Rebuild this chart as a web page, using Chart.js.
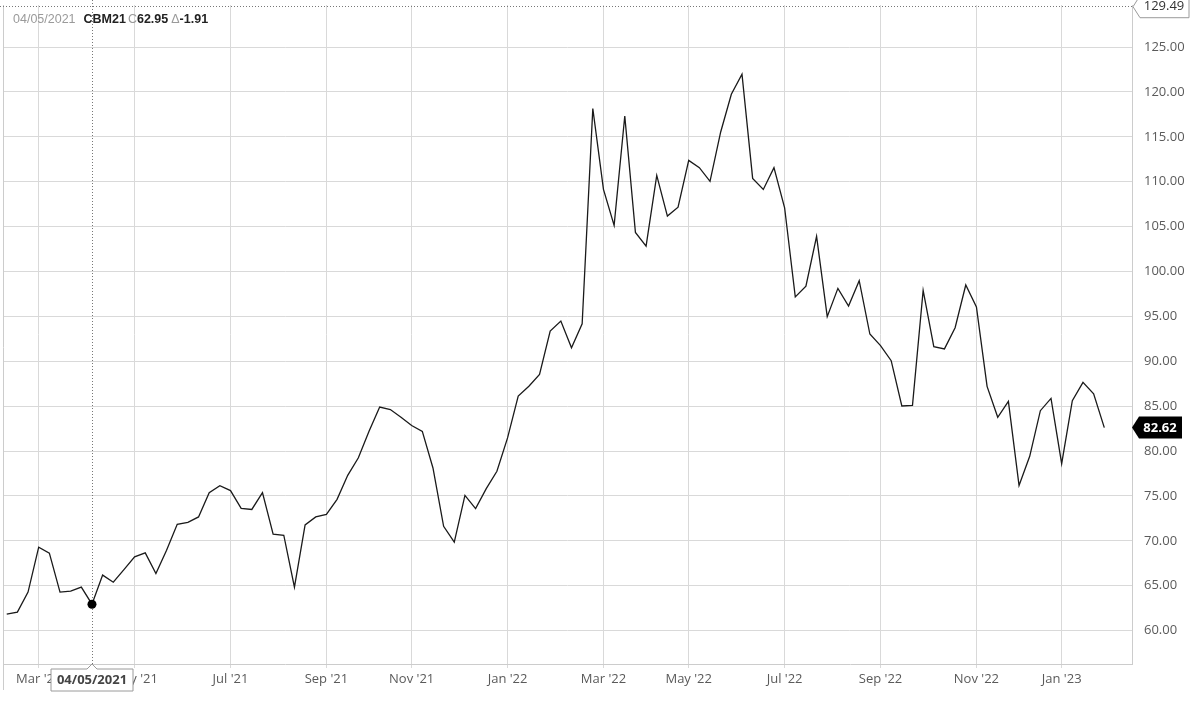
<!DOCTYPE html>
<html>
<head>
<meta charset="utf-8">
<script src="https://cdn.jsdelivr.net/npm/chart.js@4.4.1/dist/chart.umd.min.js"></script>
<style>
  html, body { margin: 0; padding: 0; background: #fff; }
  #wrap { width: 1200px; height: 707px; }
</style>
</head>
<body>
<div id="wrap"><canvas id="priceChart" width="1200" height="707"></canvas></div>
<script>
// === DATA ===
const SYMBOL = "CBM21";
const START_DATE = Date.UTC(2021, 1, 8); // first weekly bar (Mon 02/08/2021)
const CLOSES = [
    61.85, 62.07, 64.30, 69.30, 68.63, 64.30, 64.40, 64.86, 62.95, 66.19,
    65.40, 66.80, 68.22, 68.67, 66.37, 68.96, 71.85, 72.07, 72.67, 75.37,
    76.15, 75.60, 73.63, 73.50, 75.37, 70.74, 70.63, 64.85, 71.78, 72.67,
    72.96, 74.63, 77.30, 79.26, 82.22, 84.90, 84.63, 83.78, 82.85, 82.20,
    78.12, 71.62, 69.87, 75.07, 73.59, 75.82, 77.75, 81.47, 86.12, 87.23,
    88.53, 93.36, 94.48, 91.50, 94.18, 118.15, 109.15, 105.14, 117.32, 104.35,
    102.83, 110.70, 106.17, 107.17, 112.38, 111.56, 110.04, 115.54, 119.74, 121.97,
    110.37, 109.14, 111.56, 107.10, 97.17, 98.37, 103.91, 94.97, 98.12, 96.15,
    98.98, 93.04, 91.74, 90.07, 85.02, 85.09, 97.90, 91.63, 91.38, 93.74,
    98.50, 96.05, 87.21, 83.76, 85.54, 76.16, 79.42, 84.50, 85.87, 78.60,
    85.61, 87.65, 86.39, 82.62,
];
const Y_TICKS = [60, 65, 70, 75, 80, 85, 90, 95, 100, 105, 110, 115, 120, 125];
const MONTH_NAMES = ["Jan", "Feb", "Mar", "Apr", "May", "Jun", "Jul", "Aug", "Sep", "Oct", "Nov", "Dec"];
const HOVER_INDEX = 8;      // crosshair on 04/05/2021
const HOVER_PRICE = 129.49; // crosshair price at top

// weekly dates + bimonthly tick positions
const WEEKS = CLOSES.map((_, i) => new Date(START_DATE + i * 7 * 864e5));
const MONTH_TICKS = WEEKS.map((d, i) => i).filter((i) =>
    i > 0 &&
    WEEKS[i].getUTCMonth() !== WEEKS[i - 1].getUTCMonth() &&
    WEEKS[i].getUTCMonth() % 2 === 0
);

const pad = (n) => String(n).padStart(2, "0");
const fmtDate = (d) => pad(d.getUTCMonth() + 1) + "/" + pad(d.getUTCDate()) + "/" + d.getUTCFullYear();
const fmtMonth = (d) => MONTH_NAMES[d.getUTCMonth()] + " '" + String(d.getUTCFullYear()).slice(2);

const AXIS_FONT = "'Open Sans', sans-serif";
const GRID = "#d9d9d9";
const FRAME = "#cccccc";

// === OVERLAYS (crosshair, header, price tags) ===
const overlay = {
    id: "overlay",
    beforeDatasetsDraw(chart) {
        const { ctx, chartArea: a, scales } = chart;
        const cx = scales.x.getPixelForValue(HOVER_INDEX);
        const cy = scales.y.getPixelForValue(HOVER_PRICE);
        ctx.save();
        // left frame line
        ctx.strokeStyle = FRAME;
        ctx.lineWidth = 1;
        ctx.beginPath();
        ctx.moveTo(a.left + 0.5, a.top);
        ctx.lineTo(a.left + 0.5, a.bottom + 26);
        ctx.stroke();
        // crosshair
        ctx.strokeStyle = "#777";
        ctx.setLineDash([1, 2]);
        ctx.beginPath();
        ctx.moveTo(Math.round(cx) + 0.5, 0);
        ctx.lineTo(Math.round(cx) + 0.5, a.bottom + 4);
        ctx.moveTo(0, Math.round(cy) - 0.5);
        ctx.lineTo(a.right, Math.round(cy) - 0.5);
        ctx.stroke();
        ctx.restore();
    },
    afterDraw(chart) {
        const { ctx, chartArea: a, scales } = chart;
        const cx = scales.x.getPixelForValue(HOVER_INDEX);
        const cy = scales.y.getPixelForValue(HOVER_PRICE);
        const last = CLOSES[CLOSES.length - 1];
        const ly = scales.y.getPixelForValue(last);
        ctx.save();

        // header
        const close = CLOSES[HOVER_INDEX];
        const change = close - CLOSES[HOVER_INDEX - 1];
        const parts = [
            [fmtDate(WEEKS[HOVER_INDEX]), "#9a9a9a", "normal", 8],
            [SYMBOL, "#222", "bold", 2],
            ["C", "#9a9a9a", "normal", 0],
            [close.toFixed(2), "#222", "bold", 3],
            ["\u0394", "#9a9a9a", "normal", 0],
            [change.toFixed(2), "#222", "bold", 0],
        ];
        let hx = 13;
        ctx.textBaseline = "middle";
        ctx.textAlign = "left";
        parts.forEach(([t, col, w, gap]) => {
            ctx.font = w + " 12.5px 'Liberation Sans', Arial, sans-serif";
            ctx.fillStyle = col;
            ctx.fillText(t, hx, 20);
            hx += ctx.measureText(t).width + gap;
        });

        // date tag under crosshair
        const bx = Math.round(cx);
        const top = a.bottom + 5;
        ctx.beginPath();
        ctx.moveTo(bx - 41, top);
        ctx.lineTo(bx - 5, top);
        ctx.lineTo(bx, top - 5);
        ctx.lineTo(bx + 5, top);
        ctx.lineTo(bx + 41, top);
        ctx.lineTo(bx + 41, top + 22);
        ctx.lineTo(bx - 41, top + 22);
        ctx.closePath();
        ctx.fillStyle = "#fff";
        ctx.fill();
        ctx.strokeStyle = "#9a9a9a";
        ctx.lineWidth = 1;
        ctx.stroke();
        ctx.font = "bold 13px " + AXIS_FONT;
        ctx.fillStyle = "#444";
        ctx.textAlign = "center";
        ctx.fillText(fmtDate(WEEKS[HOVER_INDEX]), bx, top + 11.5);

        // crosshair price tag (top right)
        const r = a.right;
        ctx.beginPath();
        ctx.moveTo(r + 1, cy);
        ctx.lineTo(r + 8, cy - 11);
        ctx.lineTo(r + 57, cy - 11);
        ctx.lineTo(r + 57, cy + 11);
        ctx.lineTo(r + 8, cy + 11);
        ctx.closePath();
        ctx.fillStyle = "#fff";
        ctx.fill();
        ctx.strokeStyle = "#9a9a9a";
        ctx.stroke();
        ctx.font = "13px " + AXIS_FONT;
        ctx.fillStyle = "#333";
        ctx.fillText(HOVER_PRICE.toFixed(2), r + 32, cy);

        // last price tag
        ctx.beginPath();
        ctx.moveTo(r, ly);
        ctx.lineTo(r + 7, ly - 11);
        ctx.lineTo(r + 50, ly - 11);
        ctx.lineTo(r + 50, ly + 11);
        ctx.lineTo(r + 7, ly + 11);
        ctx.closePath();
        ctx.fillStyle = "#000";
        ctx.fill();
        ctx.font = "bold 13px " + AXIS_FONT;
        ctx.fillStyle = "#fff";
        ctx.fillText(last.toFixed(2), r + 28, ly + 0.5);

        ctx.restore();
    },
};

// === CHART ===
const ctxPrice = document.getElementById("priceChart").getContext("2d");
new Chart(ctxPrice, {
    type: "line",
    data: {
        datasets: [
            {
                data: CLOSES.map((v, i) => ({ x: i, y: v })),
                borderColor: "#1a1a1a",
                borderWidth: 1.3,
                tension: 0,
                fill: false,
                pointRadius: (c) => (c.dataIndex === HOVER_INDEX ? 4.5 : 0),
                pointBackgroundColor: "#000",
                pointBorderWidth: 0,
            },
        ],
    },
    options: {
        responsive: false,
        animation: false,
        devicePixelRatio: 1,
        layout: { padding: { left: 3, top: 5, right: 0, bottom: 0 } },
        plugins: { legend: { display: false }, tooltip: { enabled: false } },
        scales: {
            x: {
                type: "linear",
                min: -0.35,
                max: 105.6,
                afterBuildTicks: (s) => {
                    s.ticks = MONTH_TICKS.map((i) => ({ value: i }));
                },
                afterFit: (s) => {
                    s.height = 43;
                    s.paddingLeft = 0;
                    s.paddingRight = 0;
                },
                ticks: {
                    autoSkip: false,
                    maxRotation: 0,
                    padding: 3,
                    color: "#5a5a5a",
                    font: { family: AXIS_FONT, size: 13 },
                    callback: (v) => fmtMonth(WEEKS[v]),
                },
                grid: { color: GRID, tickLength: 4 },
                border: { color: FRAME },
            },
            y: {
                position: "right",
                min: 56.29,
                max: 129.68,
                afterBuildTicks: (s) => {
                    s.ticks = Y_TICKS.map((v) => ({ value: v }));
                },
                afterFit: (s) => {
                    s.width = 68;
                    s.paddingTop = 0;
                    s.paddingBottom = 0;
                },
                ticks: {
                    padding: 12,
                    color: "#5a5a5a",
                    font: { family: AXIS_FONT, size: 13 },
                    callback: (v) => v.toFixed(2),
                },
                grid: { color: GRID, drawTicks: false },
                border: { color: FRAME },
            },
        },
    },
    plugins: [overlay],
});
</script>
</body>
</html>
